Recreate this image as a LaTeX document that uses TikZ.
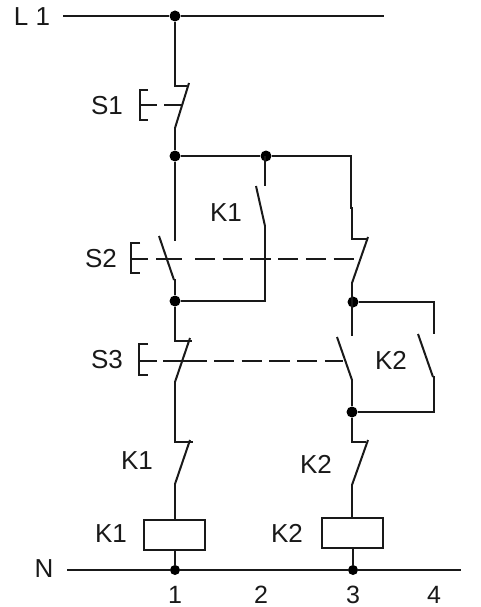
\documentclass[tikz,border=0pt]{standalone}
\usepackage{fontspec}
\setmainfont{Liberation Sans}
\tikzset{
  x=1pt,y=-1pt,
  wire/.style={line width=2.3pt,line cap=butt,line join=miter,black!90},
  thin wire/.style={line width=2pt,black!90},
  mech/.style={line width=2pt,black!90,dash pattern=on 20.3pt off 7.4pt},
  junction/.style={circle,fill=black,inner sep=0pt,minimum size=11pt},
  coil/.style={draw=black!90,line width=2pt,fill=white,minimum width=61pt,minimum height=30pt,inner sep=0pt},
  lbl/.style={font=\fontsize{26}{26}\selectfont,text=black!90,inner sep=0pt},
  numlbl/.style={lbl,font=\fontsize{25}{25}\selectfont,anchor=base}
}
\begin{document}
\begin{tikzpicture}
\useasboundingbox (0,0) rectangle (481,607);
\fill[white] (0,0) rectangle (481,607);
% junctions
\node[junction] (top) at (175,16) {};
\node[junction] (a) at (175,156) {};
\node[junction] (b) at (266,156) {};
\node[junction] (c) at (175,301) {};
\node[junction] (d) at (353,302) {};
\node[junction] (e) at (352,412) {};
\node[junction,minimum size=10pt] (f) at (175,570) {};
\node[junction,minimum size=10pt] (g) at (353,570) {};
% coils
\node[coil] (k1c) at (174,535) {};
\node[coil] (k2c) at (352,533) {};
% free ends
\coordinate (l1a) at (63,16);
\coordinate (l1b) at (384,16);
\coordinate (na) at (67,570);
\coordinate (nb) at (461,570);
% rails
\draw[wire] (l1a) -- (top) -- (l1b);
\draw[wire] (na) -- (f) -- (g) -- (nb);
% S1
\draw[wire] (top) -- (175,86) -- (187,86);
\draw[thin wire] (189,83) -- (175,128);
\draw[wire] (175,127) -- (a);
% S2 left
\draw[wire] (a) -- (175,241);
\draw[thin wire] (159,236) -- (174,280);
\draw[wire] (175,279) -- (c);
% K1 hold
\draw[wire] (a) -- (b) -- (351,156) -- (351,208) -- (352,208) -- (352,239) -- (367,239);
\draw[wire] (b |- 0,156) ++(-1,0) -- (265,186);
\draw[thin wire] (256,186) -- (265,226);
\draw[wire] (265,225) -- (265,301) -- (c);
% S2 right
\draw[thin wire] (368,237) -- (352,283);
\draw[wire] (352,282) -- (352,302);
% S3 left
\draw[wire] (c) -- (175,341) -- (192,341);
\draw[thin wire] (190,338) -- (175,382);
\draw[wire] (175,381) -- (175,442) -- (193,442);
% K1 NC
\draw[thin wire] (190,440) -- (175,484);
\draw[wire] (175,483) -- (175,520);
\draw[wire] (175,550) -- (f);
% K2 branch
\draw[wire] (352,302) -- (352,336);
\draw[thin wire] (337,337) -- (352,380);
\draw[wire] (352,379) -- (e);
\draw[wire] (d) -- (434,302) -- (434,334);
\draw[thin wire] (418,334) -- (433,377);
\draw[wire] (434,376) -- (434,412) -- (e);
\draw[wire] (e) -- (352,442) -- (366,442);
\draw[thin wire] (368,440) -- (352,485);
\draw[wire] (352,484) -- (352,518);
\draw[wire] (353,548) -- (g);
% push buttons
\draw[thin wire] (148,90) -- (140,90) -- (140,120) -- (148,120);
\draw[thin wire] (140,105) -- (157,105);
\draw[thin wire] (164,105) -- (182,105);
\draw[thin wire] (140,243) -- (131,243) -- (131,273) -- (140,273);
\draw[thin wire] (131,259) -- (148,259);
\draw[thin wire] (156,259) -- (182,259);
\draw[mech] (195,259) -- (358,259);
\draw[thin wire] (148,344) -- (139,344) -- (139,375) -- (148,375);
\draw[thin wire] (139,361) -- (157,361);
\draw[thin wire] (163,361) -- (207,361);
\draw[mech] (214,361) -- (343,361);
% labels
\node[lbl] (tl1) at (32,17) {L 1};
\node[lbl] (ts1) at (107,106) {S1};
\node[lbl] (tk1a) at (226,213) {K1};
\node[lbl] (ts2) at (101,259) {S2};
\node[lbl] (ts3) at (107,360) {S3};
\node[lbl] (tk2a) at (391,360) {K2};
\node[lbl] (tk1b) at (137,461) {K1};
\node[lbl] (tk2b) at (316,464) {K2};
\node[lbl] (tk1c) at (111,534) {K1};
\node[lbl] (tk2c) at (287,533) {K2};
\node[lbl] (tn) at (44,569) {N};
\node[numlbl] (n1) at (175,603) {1};
\node[numlbl] (n2) at (261,603) {2};
\node[numlbl] (n3) at (353,603) {3};
\node[numlbl] (n4) at (434,603) {4};
\end{tikzpicture}
\end{document}
